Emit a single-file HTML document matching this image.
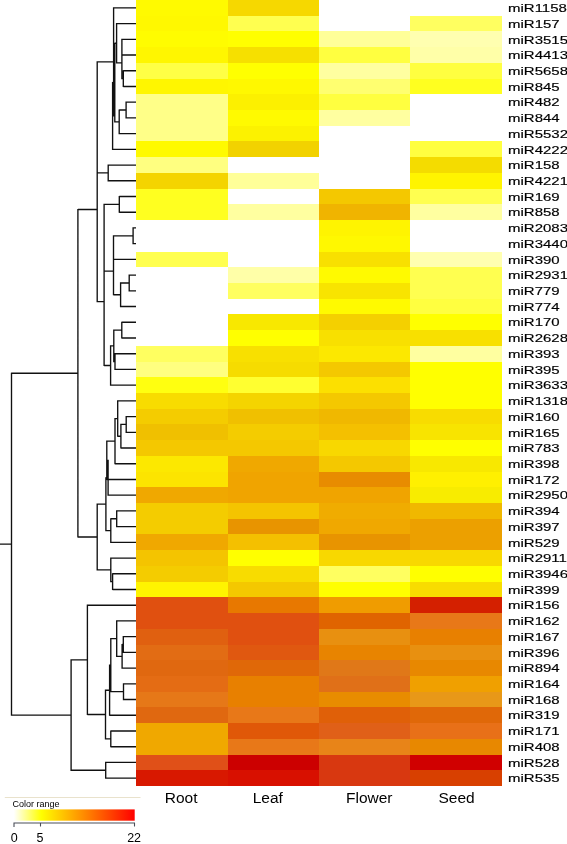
<!DOCTYPE html><html><head><meta charset="utf-8"><style>html,body{margin:0;padding:0;background:#fff;}body{width:567px;height:844px;overflow:hidden;position:relative;font-family:"Liberation Sans",sans-serif;}svg{position:absolute;left:0;top:0;will-change:transform;font-family:"Liberation Sans",sans-serif;}text{-webkit-font-smoothing:antialiased;}</style></head><body>
<svg width="567" height="844" viewBox="0 0 567 844">
<g shape-rendering="crispEdges">
<rect x="136" y="0" width="92" height="16" fill="#fffa00"/>
<rect x="228" y="0" width="91" height="16" fill="#f6d800"/>
<rect x="136" y="16" width="92" height="15" fill="#fff800"/>
<rect x="228" y="16" width="91" height="15" fill="#ffff50"/>
<rect x="410" y="16" width="92" height="15" fill="#ffff60"/>
<rect x="136" y="31" width="92" height="16" fill="#fffc00"/>
<rect x="228" y="31" width="91" height="16" fill="#ffff00"/>
<rect x="319" y="31" width="91" height="16" fill="#ffff99"/>
<rect x="410" y="31" width="92" height="16" fill="#ffffb0"/>
<rect x="136" y="47" width="92" height="16" fill="#fff600"/>
<rect x="228" y="47" width="91" height="16" fill="#f6e000"/>
<rect x="319" y="47" width="91" height="16" fill="#ffff40"/>
<rect x="410" y="47" width="92" height="16" fill="#ffffa8"/>
<rect x="136" y="63" width="92" height="16" fill="#ffff45"/>
<rect x="228" y="63" width="91" height="16" fill="#ffff00"/>
<rect x="319" y="63" width="91" height="16" fill="#ffffa0"/>
<rect x="410" y="63" width="92" height="16" fill="#ffff40"/>
<rect x="136" y="79" width="92" height="15" fill="#fff600"/>
<rect x="228" y="79" width="91" height="15" fill="#fff800"/>
<rect x="319" y="79" width="91" height="15" fill="#ffff70"/>
<rect x="410" y="79" width="92" height="15" fill="#ffff20"/>
<rect x="136" y="94" width="92" height="16" fill="#ffff88"/>
<rect x="228" y="94" width="91" height="16" fill="#fcf000"/>
<rect x="319" y="94" width="91" height="16" fill="#ffff40"/>
<rect x="136" y="110" width="92" height="16" fill="#ffff88"/>
<rect x="228" y="110" width="91" height="16" fill="#fffa00"/>
<rect x="319" y="110" width="91" height="16" fill="#ffffa0"/>
<rect x="136" y="126" width="92" height="15" fill="#ffff88"/>
<rect x="228" y="126" width="91" height="15" fill="#fcf200"/>
<rect x="136" y="141" width="92" height="16" fill="#fffa00"/>
<rect x="228" y="141" width="91" height="16" fill="#f2d200"/>
<rect x="410" y="141" width="92" height="16" fill="#ffff40"/>
<rect x="136" y="157" width="92" height="16" fill="#ffff80"/>
<rect x="410" y="157" width="92" height="16" fill="#f4dc00"/>
<rect x="136" y="173" width="92" height="16" fill="#f4d400"/>
<rect x="228" y="173" width="91" height="16" fill="#ffff99"/>
<rect x="410" y="173" width="92" height="16" fill="#fff400"/>
<rect x="136" y="189" width="92" height="15" fill="#ffff20"/>
<rect x="319" y="189" width="91" height="15" fill="#f4c800"/>
<rect x="410" y="189" width="92" height="15" fill="#ffff50"/>
<rect x="136" y="204" width="92" height="16" fill="#ffff20"/>
<rect x="228" y="204" width="91" height="16" fill="#ffffa0"/>
<rect x="319" y="204" width="91" height="16" fill="#f0b400"/>
<rect x="410" y="204" width="92" height="16" fill="#ffffa0"/>
<rect x="319" y="220" width="91" height="16" fill="#fff400"/>
<rect x="319" y="236" width="91" height="16" fill="#fff800"/>
<rect x="136" y="252" width="92" height="15" fill="#ffff50"/>
<rect x="319" y="252" width="91" height="15" fill="#f8e000"/>
<rect x="410" y="252" width="92" height="15" fill="#ffffb0"/>
<rect x="228" y="267" width="91" height="16" fill="#ffffa8"/>
<rect x="319" y="267" width="91" height="16" fill="#fffa00"/>
<rect x="410" y="267" width="92" height="16" fill="#ffff50"/>
<rect x="228" y="283" width="91" height="16" fill="#ffff60"/>
<rect x="319" y="283" width="91" height="16" fill="#f8e400"/>
<rect x="410" y="283" width="92" height="16" fill="#ffff50"/>
<rect x="319" y="299" width="91" height="15" fill="#fffa00"/>
<rect x="410" y="299" width="92" height="15" fill="#ffff40"/>
<rect x="228" y="314" width="91" height="16" fill="#f8e800"/>
<rect x="319" y="314" width="91" height="16" fill="#f4d000"/>
<rect x="410" y="314" width="92" height="16" fill="#ffff00"/>
<rect x="228" y="330" width="91" height="16" fill="#ffff00"/>
<rect x="319" y="330" width="91" height="16" fill="#f8e000"/>
<rect x="410" y="330" width="92" height="16" fill="#f8e000"/>
<rect x="136" y="346" width="92" height="16" fill="#ffff60"/>
<rect x="228" y="346" width="91" height="16" fill="#f8e000"/>
<rect x="319" y="346" width="91" height="16" fill="#fce800"/>
<rect x="410" y="346" width="92" height="16" fill="#ffffa0"/>
<rect x="136" y="362" width="92" height="15" fill="#ffff80"/>
<rect x="228" y="362" width="91" height="15" fill="#f6dc00"/>
<rect x="319" y="362" width="91" height="15" fill="#f4c800"/>
<rect x="410" y="362" width="92" height="15" fill="#ffff00"/>
<rect x="136" y="377" width="92" height="16" fill="#ffff10"/>
<rect x="228" y="377" width="91" height="16" fill="#ffff30"/>
<rect x="319" y="377" width="91" height="16" fill="#fce000"/>
<rect x="410" y="377" width="92" height="16" fill="#ffff00"/>
<rect x="136" y="393" width="92" height="16" fill="#f8dc00"/>
<rect x="228" y="393" width="91" height="16" fill="#f4d400"/>
<rect x="319" y="393" width="91" height="16" fill="#f4c800"/>
<rect x="410" y="393" width="92" height="16" fill="#ffff00"/>
<rect x="136" y="409" width="92" height="15" fill="#f4cc00"/>
<rect x="228" y="409" width="91" height="15" fill="#f0c000"/>
<rect x="319" y="409" width="91" height="15" fill="#f0b800"/>
<rect x="410" y="409" width="92" height="15" fill="#f8dc00"/>
<rect x="136" y="424" width="92" height="16" fill="#f0c000"/>
<rect x="228" y="424" width="91" height="16" fill="#f4cc00"/>
<rect x="319" y="424" width="91" height="16" fill="#f4c000"/>
<rect x="410" y="424" width="92" height="16" fill="#f8e400"/>
<rect x="136" y="440" width="92" height="16" fill="#f4c800"/>
<rect x="228" y="440" width="91" height="16" fill="#f4c800"/>
<rect x="319" y="440" width="91" height="16" fill="#f8d800"/>
<rect x="410" y="440" width="92" height="16" fill="#ffff00"/>
<rect x="136" y="456" width="92" height="16" fill="#fce800"/>
<rect x="228" y="456" width="91" height="16" fill="#f0a800"/>
<rect x="319" y="456" width="91" height="16" fill="#f4c800"/>
<rect x="410" y="456" width="92" height="16" fill="#f8e800"/>
<rect x="136" y="472" width="92" height="15" fill="#fce400"/>
<rect x="228" y="472" width="91" height="15" fill="#f0a400"/>
<rect x="319" y="472" width="91" height="15" fill="#e88c00"/>
<rect x="410" y="472" width="92" height="15" fill="#fff000"/>
<rect x="136" y="487" width="92" height="16" fill="#f0a800"/>
<rect x="228" y="487" width="91" height="16" fill="#f0a400"/>
<rect x="319" y="487" width="91" height="16" fill="#f0a400"/>
<rect x="410" y="487" width="92" height="16" fill="#f8ec00"/>
<rect x="136" y="503" width="92" height="16" fill="#f4cc00"/>
<rect x="228" y="503" width="91" height="16" fill="#f4c400"/>
<rect x="319" y="503" width="91" height="16" fill="#f0ac00"/>
<rect x="410" y="503" width="92" height="16" fill="#f0b800"/>
<rect x="136" y="519" width="92" height="15" fill="#f4cc00"/>
<rect x="228" y="519" width="91" height="15" fill="#e89400"/>
<rect x="319" y="519" width="91" height="15" fill="#f0a800"/>
<rect x="410" y="519" width="92" height="15" fill="#eca000"/>
<rect x="136" y="534" width="92" height="16" fill="#f0a800"/>
<rect x="228" y="534" width="91" height="16" fill="#f4c000"/>
<rect x="319" y="534" width="91" height="16" fill="#e89400"/>
<rect x="410" y="534" width="92" height="16" fill="#eca000"/>
<rect x="136" y="550" width="92" height="16" fill="#f4c400"/>
<rect x="228" y="550" width="91" height="16" fill="#ffff00"/>
<rect x="319" y="550" width="91" height="16" fill="#f8d800"/>
<rect x="410" y="550" width="92" height="16" fill="#f8d800"/>
<rect x="136" y="566" width="92" height="16" fill="#f4cc00"/>
<rect x="228" y="566" width="91" height="16" fill="#f8dc00"/>
<rect x="319" y="566" width="91" height="16" fill="#ffff60"/>
<rect x="410" y="566" width="92" height="16" fill="#ffff00"/>
<rect x="136" y="582" width="92" height="15" fill="#fff400"/>
<rect x="228" y="582" width="91" height="15" fill="#f4c800"/>
<rect x="319" y="582" width="91" height="15" fill="#ffff00"/>
<rect x="410" y="582" width="92" height="15" fill="#f8dc00"/>
<rect x="136" y="597" width="92" height="16" fill="#e05010"/>
<rect x="228" y="597" width="91" height="16" fill="#e87800"/>
<rect x="319" y="597" width="91" height="16" fill="#f09c00"/>
<rect x="410" y="597" width="92" height="16" fill="#d42000"/>
<rect x="136" y="613" width="92" height="16" fill="#e05010"/>
<rect x="228" y="613" width="91" height="16" fill="#e05010"/>
<rect x="319" y="613" width="91" height="16" fill="#e06400"/>
<rect x="410" y="613" width="92" height="16" fill="#e87818"/>
<rect x="136" y="629" width="92" height="16" fill="#e06010"/>
<rect x="228" y="629" width="91" height="16" fill="#e05010"/>
<rect x="319" y="629" width="91" height="16" fill="#e89010"/>
<rect x="410" y="629" width="92" height="16" fill="#e88000"/>
<rect x="136" y="645" width="92" height="15" fill="#e26c14"/>
<rect x="228" y="645" width="91" height="15" fill="#e05810"/>
<rect x="319" y="645" width="91" height="15" fill="#e88400"/>
<rect x="410" y="645" width="92" height="15" fill="#e89010"/>
<rect x="136" y="660" width="92" height="16" fill="#e06810"/>
<rect x="228" y="660" width="91" height="16" fill="#e06808"/>
<rect x="319" y="660" width="91" height="16" fill="#e07818"/>
<rect x="410" y="660" width="92" height="16" fill="#e88800"/>
<rect x="136" y="676" width="92" height="16" fill="#e46c14"/>
<rect x="228" y="676" width="91" height="16" fill="#e88000"/>
<rect x="319" y="676" width="91" height="16" fill="#e07018"/>
<rect x="410" y="676" width="92" height="16" fill="#f0a000"/>
<rect x="136" y="692" width="92" height="15" fill="#e67818"/>
<rect x="228" y="692" width="91" height="15" fill="#e88000"/>
<rect x="319" y="692" width="91" height="15" fill="#e88c00"/>
<rect x="410" y="692" width="92" height="15" fill="#e89818"/>
<rect x="136" y="707" width="92" height="16" fill="#e06810"/>
<rect x="228" y="707" width="91" height="16" fill="#e87818"/>
<rect x="319" y="707" width="91" height="16" fill="#e06008"/>
<rect x="410" y="707" width="92" height="16" fill="#e06808"/>
<rect x="136" y="723" width="92" height="16" fill="#f0a800"/>
<rect x="228" y="723" width="91" height="16" fill="#e05808"/>
<rect x="319" y="723" width="91" height="16" fill="#e06018"/>
<rect x="410" y="723" width="92" height="16" fill="#e87018"/>
<rect x="136" y="739" width="92" height="16" fill="#f0a800"/>
<rect x="228" y="739" width="91" height="16" fill="#e87818"/>
<rect x="319" y="739" width="91" height="16" fill="#e88418"/>
<rect x="410" y="739" width="92" height="16" fill="#e88800"/>
<rect x="136" y="755" width="92" height="15" fill="#e05018"/>
<rect x="228" y="755" width="91" height="15" fill="#cc0000"/>
<rect x="319" y="755" width="91" height="15" fill="#d83810"/>
<rect x="410" y="755" width="92" height="15" fill="#d00000"/>
<rect x="136" y="770" width="92" height="16" fill="#d81800"/>
<rect x="228" y="770" width="91" height="16" fill="#d81000"/>
<rect x="319" y="770" width="91" height="16" fill="#d83810"/>
<rect x="410" y="770" width="92" height="16" fill="#d84000"/>
</g>
<path d="M126.10 101.58V118.50M126.10 102.18H136.00M126.10 117.90H136.00M119.20 109.44V134.22M119.20 110.04H126.10M119.20 133.62H136.00M121.90 38.70V55.62M121.90 39.30H136.00M121.90 55.02H136.00M123.30 70.14V87.06M123.30 70.74H136.00M123.30 86.46H136.00M121.90 46.56V79.20M121.90 78.60H123.30M116.60 22.98V63.48M116.60 23.58H136.00M116.60 62.88H121.90M114.80 42.63V122.43M114.80 43.23H116.60M114.80 121.83H119.20M112.60 81.93V149.94M112.60 82.53H114.80M112.60 149.34H136.00M113.60 7.26V116.53M113.60 7.86H136.00M112.60 115.94H113.60M108.20 164.46V181.38M108.20 165.06H136.00M108.20 180.78H136.00M97.20 61.30V173.52M97.20 61.90H113.60M97.20 172.92H108.20M119.30 195.90V212.82M119.30 196.50H136.00M119.30 212.22H136.00M133.10 227.34V244.26M133.10 227.94H136.00M133.10 243.66H136.00M113.50 235.20V259.98M113.50 235.80H133.10M113.50 259.38H136.00M129.20 274.50V291.42M129.20 275.10H136.00M129.20 290.82H136.00M120.60 282.36V307.14M120.60 282.96H129.20M120.60 306.54H136.00M113.50 246.99V295.35M113.50 294.75H120.60M104.10 203.76V271.77M104.10 204.36H119.30M104.10 271.17H113.50M121.80 321.66V338.58M121.80 322.26H136.00M121.80 337.98H136.00M115.00 353.10V370.02M115.00 353.70H136.00M115.00 369.42H136.00M113.80 329.52V362.16M113.80 330.12H121.80M113.80 361.56H115.00M110.60 345.24V385.74M110.60 345.84H113.80M110.60 385.14H136.00M104.10 237.17V366.09M104.10 365.49H110.60M97.20 116.81V302.23M97.20 301.63H104.10M126.20 415.98V432.90M126.20 416.58H136.00M126.20 432.30H136.00M120.90 423.84V448.62M120.90 424.44H126.20M120.90 448.02H136.00M117.70 400.26V436.83M117.70 400.86H136.00M117.70 436.23H120.90M115.00 417.94V464.34M115.00 418.55H117.70M115.00 463.74H136.00M106.80 440.54V480.06M106.80 441.14H115.00M106.80 479.46H136.00M108.10 459.70V495.78M106.80 460.30H108.10M108.10 495.18H136.00M116.70 510.30V527.22M116.70 510.90H136.00M116.70 526.62H136.00M110.80 518.16V542.94M110.80 518.76H116.70M110.80 542.34H136.00M105.90 477.14V531.15M105.90 477.74H108.10M105.90 530.55H110.80M112.60 573.18V590.10M112.60 573.78H136.00M112.60 589.50H136.00M110.80 557.46V582.24M110.80 558.06H136.00M110.80 581.64H112.60M97.20 503.55V570.45M97.20 504.15H105.90M97.20 569.85H110.80M77.90 208.92V537.60M77.90 209.52H97.20M77.90 537.00H97.20M123.30 636.06V652.98M123.30 636.66H136.00M123.30 652.38H136.00M122.10 643.92V668.70M122.10 644.52H123.30M122.10 668.10H136.00M116.70 620.34V656.91M116.70 620.94H136.00M116.70 656.31H122.10M123.50 683.22V700.14M123.50 683.82H136.00M123.50 699.54H136.00M110.80 638.02V692.28M110.80 638.62H116.70M110.80 691.68H123.50M109.60 664.55V715.86M109.60 665.15H110.80M109.60 715.26H136.00M110.80 730.38V747.30M110.80 730.98H136.00M110.80 746.70H136.00M105.50 689.61V739.44M105.50 690.21H109.60M105.50 738.84H110.80M87.40 604.62V715.12M87.40 605.22H136.00M87.40 714.52H105.50M105.70 761.82V778.74M105.70 762.42H136.00M105.70 778.14H136.00M71.10 659.27V770.88M71.10 659.87H87.40M71.10 770.28H105.70M11.50 372.66V715.68M11.20 373.26H77.90M11.20 715.08H71.10M0.00 544.17H11.50" stroke="#111" stroke-width="1.35" fill="none"/>
<text transform="translate(508 12.06) scale(1.5 1)" font-size="10" fill="#000" stroke="#000" stroke-width="0.15">miR1158</text>
<text transform="translate(508 27.78) scale(1.5 1)" font-size="10" fill="#000" stroke="#000" stroke-width="0.15">miR157</text>
<text transform="translate(508 43.50) scale(1.5 1)" font-size="10" fill="#000" stroke="#000" stroke-width="0.15">miR3515</text>
<text transform="translate(508 59.22) scale(1.5 1)" font-size="10" fill="#000" stroke="#000" stroke-width="0.15">miR4413</text>
<text transform="translate(508 74.94) scale(1.5 1)" font-size="10" fill="#000" stroke="#000" stroke-width="0.15">miR5658</text>
<text transform="translate(508 90.66) scale(1.5 1)" font-size="10" fill="#000" stroke="#000" stroke-width="0.15">miR845</text>
<text transform="translate(508 106.38) scale(1.5 1)" font-size="10" fill="#000" stroke="#000" stroke-width="0.15">miR482</text>
<text transform="translate(508 122.10) scale(1.5 1)" font-size="10" fill="#000" stroke="#000" stroke-width="0.15">miR844</text>
<text transform="translate(508 137.82) scale(1.5 1)" font-size="10" fill="#000" stroke="#000" stroke-width="0.15">miR5532</text>
<text transform="translate(508 153.54) scale(1.5 1)" font-size="10" fill="#000" stroke="#000" stroke-width="0.15">miR4222</text>
<text transform="translate(508 169.26) scale(1.5 1)" font-size="10" fill="#000" stroke="#000" stroke-width="0.15">miR158</text>
<text transform="translate(508 184.98) scale(1.5 1)" font-size="10" fill="#000" stroke="#000" stroke-width="0.15">miR4221</text>
<text transform="translate(508 200.70) scale(1.5 1)" font-size="10" fill="#000" stroke="#000" stroke-width="0.15">miR169</text>
<text transform="translate(508 216.42) scale(1.5 1)" font-size="10" fill="#000" stroke="#000" stroke-width="0.15">miR858</text>
<text transform="translate(508 232.14) scale(1.5 1)" font-size="10" fill="#000" stroke="#000" stroke-width="0.15">miR2083</text>
<text transform="translate(508 247.86) scale(1.5 1)" font-size="10" fill="#000" stroke="#000" stroke-width="0.15">miR3440</text>
<text transform="translate(508 263.58) scale(1.5 1)" font-size="10" fill="#000" stroke="#000" stroke-width="0.15">miR390</text>
<text transform="translate(508 279.30) scale(1.5 1)" font-size="10" fill="#000" stroke="#000" stroke-width="0.15">miR2931</text>
<text transform="translate(508 295.02) scale(1.5 1)" font-size="10" fill="#000" stroke="#000" stroke-width="0.15">miR779</text>
<text transform="translate(508 310.74) scale(1.5 1)" font-size="10" fill="#000" stroke="#000" stroke-width="0.15">miR774</text>
<text transform="translate(508 326.46) scale(1.5 1)" font-size="10" fill="#000" stroke="#000" stroke-width="0.15">miR170</text>
<text transform="translate(508 342.18) scale(1.5 1)" font-size="10" fill="#000" stroke="#000" stroke-width="0.15">miR2628</text>
<text transform="translate(508 357.90) scale(1.5 1)" font-size="10" fill="#000" stroke="#000" stroke-width="0.15">miR393</text>
<text transform="translate(508 373.62) scale(1.5 1)" font-size="10" fill="#000" stroke="#000" stroke-width="0.15">miR395</text>
<text transform="translate(508 389.34) scale(1.5 1)" font-size="10" fill="#000" stroke="#000" stroke-width="0.15">miR3633</text>
<text transform="translate(508 405.06) scale(1.5 1)" font-size="10" fill="#000" stroke="#000" stroke-width="0.15">miR1318</text>
<text transform="translate(508 420.78) scale(1.5 1)" font-size="10" fill="#000" stroke="#000" stroke-width="0.15">miR160</text>
<text transform="translate(508 436.50) scale(1.5 1)" font-size="10" fill="#000" stroke="#000" stroke-width="0.15">miR165</text>
<text transform="translate(508 452.22) scale(1.5 1)" font-size="10" fill="#000" stroke="#000" stroke-width="0.15">miR783</text>
<text transform="translate(508 467.94) scale(1.5 1)" font-size="10" fill="#000" stroke="#000" stroke-width="0.15">miR398</text>
<text transform="translate(508 483.66) scale(1.5 1)" font-size="10" fill="#000" stroke="#000" stroke-width="0.15">miR172</text>
<text transform="translate(508 499.38) scale(1.5 1)" font-size="10" fill="#000" stroke="#000" stroke-width="0.15">miR2950</text>
<text transform="translate(508 515.10) scale(1.5 1)" font-size="10" fill="#000" stroke="#000" stroke-width="0.15">miR394</text>
<text transform="translate(508 530.82) scale(1.5 1)" font-size="10" fill="#000" stroke="#000" stroke-width="0.15">miR397</text>
<text transform="translate(508 546.54) scale(1.5 1)" font-size="10" fill="#000" stroke="#000" stroke-width="0.15">miR529</text>
<text transform="translate(508 562.26) scale(1.5 1)" font-size="10" fill="#000" stroke="#000" stroke-width="0.15">miR2911</text>
<text transform="translate(508 577.98) scale(1.5 1)" font-size="10" fill="#000" stroke="#000" stroke-width="0.15">miR3946</text>
<text transform="translate(508 593.70) scale(1.5 1)" font-size="10" fill="#000" stroke="#000" stroke-width="0.15">miR399</text>
<text transform="translate(508 609.42) scale(1.5 1)" font-size="10" fill="#000" stroke="#000" stroke-width="0.15">miR156</text>
<text transform="translate(508 625.14) scale(1.5 1)" font-size="10" fill="#000" stroke="#000" stroke-width="0.15">miR162</text>
<text transform="translate(508 640.86) scale(1.5 1)" font-size="10" fill="#000" stroke="#000" stroke-width="0.15">miR167</text>
<text transform="translate(508 656.58) scale(1.5 1)" font-size="10" fill="#000" stroke="#000" stroke-width="0.15">miR396</text>
<text transform="translate(508 672.30) scale(1.5 1)" font-size="10" fill="#000" stroke="#000" stroke-width="0.15">miR894</text>
<text transform="translate(508 688.02) scale(1.5 1)" font-size="10" fill="#000" stroke="#000" stroke-width="0.15">miR164</text>
<text transform="translate(508 703.74) scale(1.5 1)" font-size="10" fill="#000" stroke="#000" stroke-width="0.15">miR168</text>
<text transform="translate(508 719.46) scale(1.5 1)" font-size="10" fill="#000" stroke="#000" stroke-width="0.15">miR319</text>
<text transform="translate(508 735.18) scale(1.5 1)" font-size="10" fill="#000" stroke="#000" stroke-width="0.15">miR171</text>
<text transform="translate(508 750.90) scale(1.5 1)" font-size="10" fill="#000" stroke="#000" stroke-width="0.15">miR408</text>
<text transform="translate(508 766.62) scale(1.5 1)" font-size="10" fill="#000" stroke="#000" stroke-width="0.15">miR528</text>
<text transform="translate(508 782.34) scale(1.5 1)" font-size="10" fill="#000" stroke="#000" stroke-width="0.15">miR535</text>
<text x="181.15" y="803.3" font-size="15.5" text-anchor="middle" fill="#000">Root</text>
<text x="267.80" y="803.3" font-size="15.5" text-anchor="middle" fill="#000">Leaf</text>
<text x="369.25" y="803.3" font-size="15.5" text-anchor="middle" fill="#000">Flower</text>
<text x="456.60" y="803.3" font-size="15.5" text-anchor="middle" fill="#000">Seed</text>
<line x1="4.8" y1="797.5" x2="140.5" y2="797.5" stroke="#e9e2cc" stroke-width="1"/>
<text x="12.4" y="807" font-size="9" fill="#000">Color range</text>
<defs><linearGradient id="g" x1="0" x2="1" y1="0" y2="0"><stop offset="0" stop-color="#ffffff"/><stop offset="0.227" stop-color="#ffff00"/><stop offset="1" stop-color="#ff0000"/></linearGradient></defs>
<rect x="13.8" y="809.4" width="120.9" height="11.3" fill="url(#g)"/>
<path d="M13.5 823H135M14 822.5V827M40.5 823V826.5M134.5 822.5V826.5" stroke="#4a4e58" stroke-width="1.1" fill="none"/>
<text x="14.2" y="841.6" font-size="12.5" text-anchor="middle" fill="#000">0</text>
<text x="40.1" y="841.6" font-size="12.5" text-anchor="middle" fill="#000">5</text>
<text x="134.1" y="841.6" font-size="12.5" text-anchor="middle" fill="#000">22</text>
</svg></body></html>
